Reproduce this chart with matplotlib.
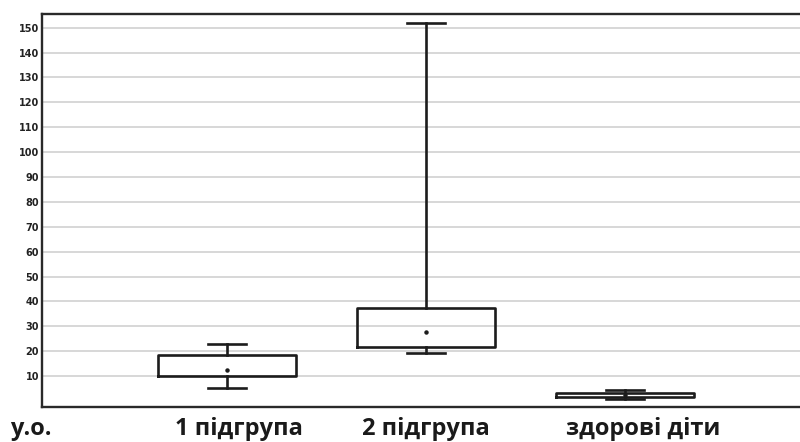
import matplotlib
matplotlib.use("Agg")
import matplotlib.pyplot as plt

# values (у.о.)
groups = ["1 підгрупа", "2 підгрупа", "здорові діти"]
q1 = [10.0, 21.8, 1.5]
q3 = [18.4, 37.2, 3.3]
whis_lo = [5.3, 19.1, 0.7]
whis_hi = [22.8, 152.0, 4.4]
centre = [12.4, 27.8, 2.5]
yticks = list(range(10, 160, 10))

fig = plt.figure(figsize=(8, 4.42), dpi=100)
ax = fig.add_axes([0.0525, 0.0803, 0.9475, 0.8880])

stats = []
for i in range(len(groups)):
    stats.append({"med": centre[i], "q1": q1[i], "q3": q3[i],
                  "whislo": whis_lo[i], "whishi": whis_hi[i],
                  "mean": centre[i], "fliers": []})

col = "#1c1c1c"
ax.bxp(stats, positions=[1, 2, 3], widths=0.69, capwidths=0.19,
       showmeans=True, showfliers=False,
       boxprops=dict(color=col, linewidth=1.9),
       whiskerprops=dict(color=col, linewidth=1.9),
       capprops=dict(color=col, linewidth=1.9),
       medianprops=dict(linestyle="none"),
       meanprops=dict(marker="o", markersize=2.2, markerfacecolor=col,
                      markeredgecolor=col))

ax.set_xlim(0.07, 3.879)
ax.set_ylim(-2.2, 155.5)
ax.set_yticks(yticks)
ax.set_xticks([])
ax.yaxis.grid(True, color="#d4d4d4", linewidth=1.3)
ax.set_axisbelow(True)
ax.tick_params(axis="y", length=0, pad=2, labelsize=7, labelcolor="#222222")
for lab in ax.get_yticklabels():
    lab.set_fontweight("bold")

ax.spines["right"].set_visible(False)
for side in ["left", "top", "bottom"]:
    ax.spines[side].set_linewidth(1.7)
    ax.spines[side].set_color("#2a2a2a")

# labels under the axis
lab_x = [239, 426, 643]
fp = dict(family="Open Sans", fontweight="bold", fontsize=17, color="#1a1a1a")
for name, x in zip(groups, lab_x):
    fig.text(x / 800, 0.016, name, ha="center", va="baseline", **fp)
fig.text(10 / 800, 0.016, "у.о.", ha="left", va="baseline", **fp)

fig.savefig("out.png", dpi=100)
